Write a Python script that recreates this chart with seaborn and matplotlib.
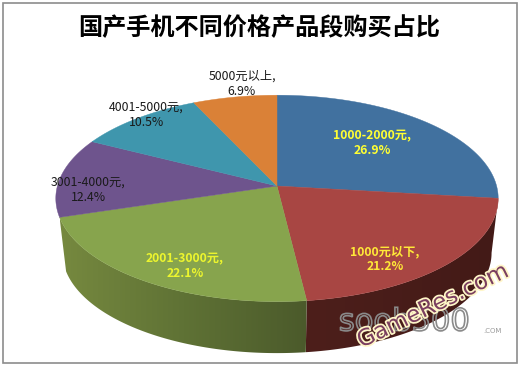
import numpy as np
import matplotlib
matplotlib.use("Agg")
import matplotlib.pyplot as plt
import matplotlib.patheffects as pe
from matplotlib.colors import LinearSegmentedColormap
import seaborn as sns

title = "国产手机不同价格产品段购买占比"
labels = ["1000-2000元", "1000元以下", "2001-3000元", "3001-4000元", "4001-5000元", "5000元以上"]
shares = [26.9, 21.2, 22.1, 12.4, 10.5, 6.9]
colors = ["#41719f", "#a84643", "#87a44d", "#6e548d", "#3f96ad", "#da8137"]
label_colors = ["#ffff33", "#ffe838", "#ecf52e", "#1a1a1a", "#1a1a1a", "#1a1a1a"]

sns.set_theme(style="white")
plt.rcParams["font.family"] = ["Noto Sans CJK SC", "DejaVu Sans"]

# pie geometry in pixels, the 3d look is a projective map of the unit circle
cx, cy = 277, 186
rx, ry, k = 219.6, 101.7, 0.12

def project(theta, scale=1.0, y0=cy):
    u, v = np.cos(theta), np.sin(theta)
    d = 1 + k * v
    return cx + scale * rx * u / d, y0 - scale * ry * v / d

fig, ax = plt.subplots(figsize=(5.19, 3.65), dpi=100)
fig.subplots_adjust(0, 0, 1, 1)
ax.axis("off")

bounds = np.pi / 2 - 2 * np.pi * np.cumsum([0] + shares) / sum(shares)

# side wall: only the red and green slices face the viewer
wall_cmaps = {
    1: LinearSegmentedColormap.from_list("red_wall", ["#431a17", "#4d1f1b"]),
    2: LinearSegmentedColormap.from_list("green_wall", ["#4b5a2b", "#5f7235", "#76893f"]),
}
for i, cmap in wall_cmaps.items():
    t = np.linspace(bounds[i], bounds[i + 1], 200)
    x0, y0 = project(t)
    x1, y1 = project(t, 0.97, 241)
    poly = ax.fill(np.r_[x0, x1[::-1]], np.r_[y0, y1[::-1]], color="none", lw=0)[0]
    grad = np.linspace(1, 0, 256).reshape(1, -1)
    im = ax.imshow(grad, cmap=cmap, aspect="auto", zorder=2,
                   extent=(min(x0.min(), x1.min()), max(x0.max(), x1.max()), 360, 180))
    im.set_clip_path(poly)

# top face
for i in range(len(shares)):
    t = np.linspace(bounds[i], bounds[i + 1], 200)
    x, y = project(t)
    ax.fill(np.r_[cx, x], np.r_[cy, y], color=colors[i], lw=0.3, zorder=3)

ax.set_xlim(0, 519)
ax.set_ylim(365, 0)

label_xy = [(372, 143), (385, 259), (185, 266), (88, 190), (146, 115), (242, 84)]
for i, (px, py) in enumerate(label_xy):
    bold = i < 3
    ax.text(px, py, f"{labels[i]},\n{shares[i]}%", color=label_colors[i], ha="center", va="center",
            fontsize=8.8, linespacing=1.2, fontweight="bold" if bold else "normal", zorder=5)

ax.text(259, 28, title, ha="center", va="center", fontsize=17.4, fontweight="bold", color="black", zorder=5)

# watermarks
ax.text(404, 322, "soob500", ha="center", va="center", fontsize=22, zorder=4, family="DejaVu Sans",
        path_effects=[pe.PathPatchEffect(edgecolor="#8a8a8a", facecolor="none", linewidth=1.2)])
ax.text(492, 331, ".COM", ha="center", va="center", fontsize=5, color="#9a9a9a", zorder=4, family="DejaVu Sans")
ax.text(433, 306, "GameRes.com", rotation=26, ha="center", va="center", fontsize=16.5,
        color="#7b3f60", zorder=6, family="DejaVu Sans", rotation_mode="anchor",
        path_effects=[pe.withStroke(linewidth=2.5, foreground="#fff6c8")])

ax.add_patch(plt.Rectangle((2.5, 2.5), 514, 360, fill=False, ec="#8c8c8c", lw=1.2, zorder=7))
fig.savefig("out.png", dpi=100)
